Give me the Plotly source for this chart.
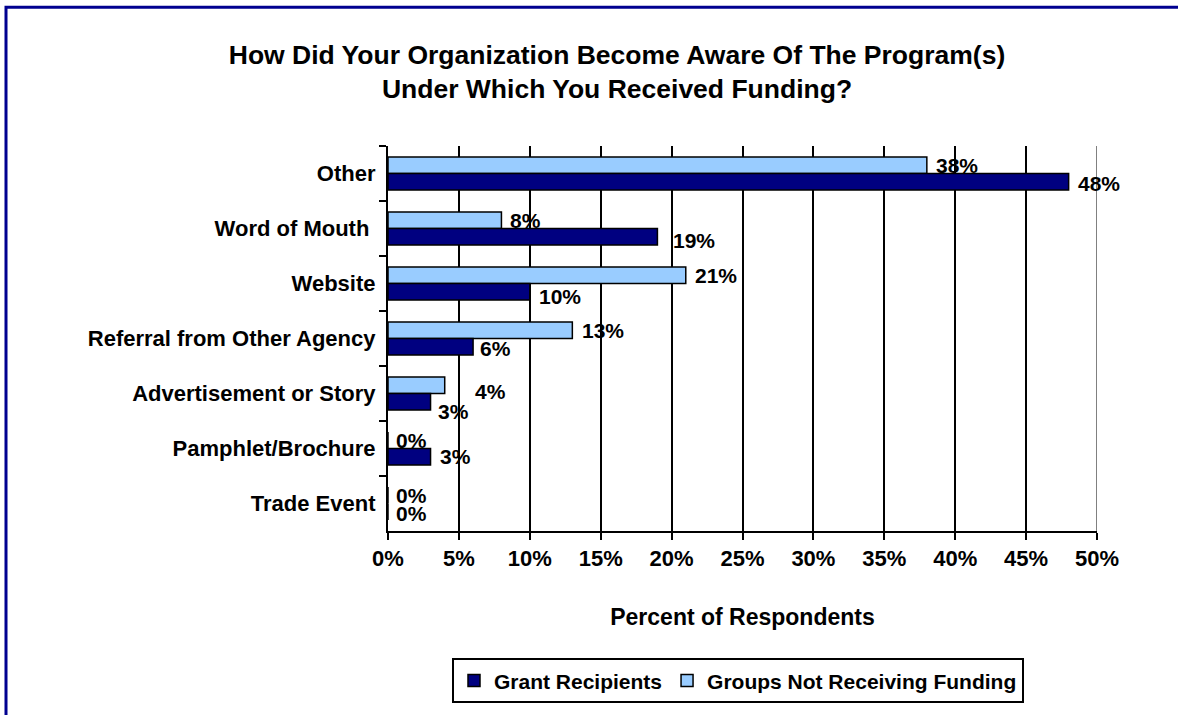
import plotly.graph_objects as go

# Survey responses: how organizations heard about the funding program(s)
categories = [
    "Other",
    "Word of Mouth ",
    "Website",
    "Referral from Other Agency",
    "Advertisement or Story",
    "Pamphlet/Brochure",
    "Trade Event",
]
grant_recipients = [48, 19, 10, 6, 3, 3, 0]
not_funded = [38, 8, 21, 13, 4, 0, 0]
x_ticks = [0, 5, 10, 15, 20, 25, 30, 35, 40, 45, 50]

FONT = "Liberation Sans, Arial, sans-serif"
DARK = "#000080"
LIGHT = "#99CCFF"

W, H = 1178, 715
ML, MR, MT, MB = 388, 81, 146, 182

fig = go.Figure()
fig.add_trace(go.Bar(
    y=categories, x=not_funded, orientation="h",
    name="Groups Not Receiving Funding",
    marker=dict(color=LIGHT, line=dict(color="black", width=1.5)),
))
fig.add_trace(go.Bar(
    y=categories, x=grant_recipients, orientation="h",
    name="Grant Recipients",
    marker=dict(color=DARK, line=dict(color="black", width=1.5)),
))

# value labels beside each bar end (pixel nudges per label)
plot_h = H - MT - MB
band = plot_h / len(categories)
bar_off = band * 0.6 / 4
light_nudge = [(8, 0), (8, 0), (8, 0), (9, 0), (29, 6), (7, 0), (7, 0)]
dark_nudge = [(8, 2), (15, 4), (8, 5), (6, 2), (6, 10), (8, 0), (7, 2)]
for cat, v, (dx, dy) in zip(categories, not_funded, light_nudge):
    fig.add_annotation(x=v, y=cat, text=f"{v}%", showarrow=False,
                       xanchor="left", yanchor="middle",
                       xshift=dx, yshift=bar_off - dy, borderpad=0,
                       font=dict(family=FONT, size=21, color="black", weight="bold"))
for cat, v, (dx, dy) in zip(categories, grant_recipients, dark_nudge):
    fig.add_annotation(x=v, y=cat, text=f"{v}%", showarrow=False,
                       xanchor="left", yanchor="middle",
                       xshift=dx, yshift=-bar_off - dy, borderpad=0,
                       font=dict(family=FONT, size=21, color="black", weight="bold"))

# right edge of the plot area
fig.add_shape(type="line", xref="x", yref="paper", x0=50, x1=50, y0=0, y1=1,
              line=dict(color="#808080", width=2))

# outer chart border
pw = W - ML - MR
fig.add_shape(type="rect", xref="paper", yref="paper",
              x0=(6 - ML) / pw, x1=(W + 20 - ML) / pw,
              y0=(H - MB - (H + 20)) / plot_h, y1=(H - MB - 6.5) / plot_h,
              line=dict(color="#000090", width=3), fillcolor="rgba(0,0,0,0)",
              layer="below")

fig.update_layout(
    width=W, height=H,
    margin=dict(l=ML, r=MR, t=MT, b=MB),
    paper_bgcolor="white", plot_bgcolor="white",
    barmode="group", bargap=0.4, bargroupgap=0,
    font=dict(family=FONT, color="black", weight="bold"),
    title=dict(
        text="How Did Your Organization Become Aware Of The Program(s)<br>Under Which You Received Funding?",
        x=617 / W, xanchor="center", xref="container",
        y=1 - 64 / H, yanchor="top", yref="container",
        font=dict(family=FONT, size=26.5, color="black", weight="bold"),
    ),
    xaxis=dict(
        range=[0, 50], tickvals=x_ticks, ticktext=[f"{t}%" for t in x_ticks],
        showgrid=True, gridcolor="black", gridwidth=2,
        showline=True, linecolor="black", linewidth=2,
        ticks="outside", ticklen=7, tickcolor="black", tickwidth=2,
        tickfont=dict(family=FONT, size=22, color="black", weight="bold"),
        zeroline=False,
        title=dict(text="Percent of Respondents", standoff=38,
                   font=dict(family=FONT, size=23, color="black", weight="bold")),
    ),
    yaxis=dict(
        autorange="reversed", type="category",
        showline=True, linecolor="black", linewidth=2,
        ticks="outside", ticklen=7, tickcolor="black", tickwidth=2,
        tickson="boundaries", showgrid=False,
        tickfont=dict(family=FONT, size=22, color="black", weight="bold"),
        ticksuffix=" ",
    ),
    legend=dict(
        orientation="h", traceorder="reversed",
        x=(738 - ML) / pw, xanchor="center",
        y=(H - MB - 661) / plot_h, yanchor="top",
        bordercolor="black", borderwidth=2, bgcolor="white",
        font=dict(family=FONT, size=21, color="black", weight="bold"),
        itemwidth=30,
    ),
    showlegend=True,
)

fig.write_html("out.html")
